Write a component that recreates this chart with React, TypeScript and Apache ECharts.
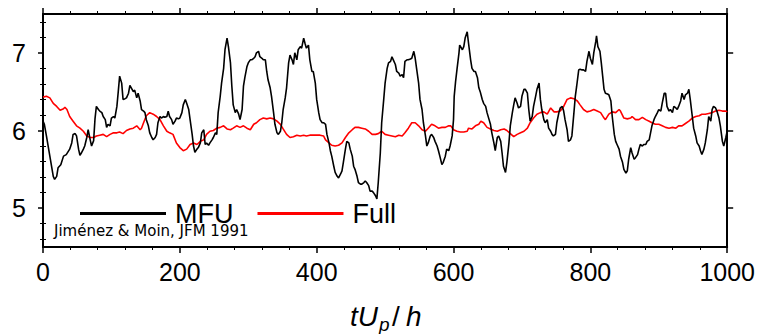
import React, { useEffect, useRef } from "react";
import * as echarts from "echarts";

// Time axis ticks (tU_p/h) and velocity axis ticks
const xTicks = [0, 200, 400, 600, 800, 1000];
const yMajorTicks = [5, 6, 7];
const yMinorTicks = [4.6, 4.8, 5.2, 5.4, 5.6, 5.8, 6.2, 6.4, 6.6, 6.8, 7.2, 7.4];
const seriesNames = ["MFU", "Full"];

// MFU: [tU_p/h, value]
const mfu: [number, number][] = [
  [0, 6.12], [2, 6.08], [5, 5.93], [10, 5.67], [15, 5.41], [17, 5.37], [20, 5.41], [22, 5.52], [26, 5.56], [30, 5.67],
  [34, 5.69], [39, 5.76], [42, 5.84], [44, 5.95], [47, 5.96], [49, 5.93], [52, 5.76], [54, 5.68], [56, 5.71], [59, 5.76],
  [61, 5.8], [64, 5.91], [66, 6.01], [69, 5.88], [71, 5.8], [74, 5.87], [76, 6.15], [78, 6.31], [81, 6.27], [83, 6.25],
  [86, 6.23], [88, 6.18], [91, 6.14], [93, 6.04], [95, 6.08], [98, 6.06], [100, 6.16], [103, 6.18], [105, 6.16], [108, 6.31],
  [110, 6.5], [112, 6.7], [115, 6.61], [117, 6.4], [120, 6.41], [122, 6.42], [125, 6.48], [127, 6.58], [129, 6.55], [132, 6.5],
  [134, 6.52], [137, 6.42], [139, 6.48], [142, 6.38], [144, 6.27], [147, 6.25], [149, 6.23], [151, 6.14], [154, 6.06], [156, 5.97],
  [159, 5.91], [161, 5.88], [164, 5.91], [166, 5.95], [168, 6.1], [171, 6.18], [173, 6.16], [176, 6.18], [178, 6.17], [181, 6.18],
  [183, 6.25], [185, 6.18], [188, 6.14], [190, 6.08], [193, 6.12], [195, 6.16], [198, 6.15], [200, 6.16], [203, 6.23], [205, 6.33],
  [208, 6.4], [210, 6.35], [213, 6.27], [215, 6.14], [218, 5.95], [220, 5.8], [222, 5.72], [225, 5.76], [227, 5.78], [230, 5.84],
  [232, 5.97], [235, 6.01], [237, 5.82], [239, 5.84], [242, 5.81], [244, 5.84], [247, 5.88], [249, 5.91], [252, 5.97], [254, 5.95],
  [256, 6.23], [259, 6.44], [261, 6.61], [264, 6.8], [266, 7.04], [269, 7.19], [271, 7.08], [274, 6.87], [276, 6.57], [278, 6.33],
  [281, 6.23], [283, 6.27], [286, 6.21], [288, 6.14], [291, 6.27], [293, 6.57], [295, 6.68], [298, 6.82], [300, 6.87], [303, 6.91],
  [305, 6.91], [308, 6.93], [310, 6.95], [312, 7.0], [315, 7.02], [317, 6.95], [320, 6.93], [322, 6.91], [325, 6.91], [327, 6.76],
  [329, 6.65], [332, 6.55], [334, 6.44], [337, 6.23], [339, 6.08], [342, 5.97], [344, 5.95], [347, 5.99], [349, 6.1], [351, 6.27],
  [354, 6.42], [356, 6.55], [359, 6.87], [361, 6.97], [364, 6.91], [366, 6.85], [368, 7.0], [371, 6.91], [373, 7.04], [376, 7.08],
  [378, 7.06], [381, 7.19], [383, 7.12], [385, 7.06], [388, 7.1], [390, 6.91], [393, 6.76], [395, 6.76], [398, 6.61], [400, 6.4],
  [403, 6.23], [405, 6.14], [408, 6.1], [410, 6.1], [413, 6.08], [415, 5.95], [418, 5.84], [420, 5.74], [422, 5.67], [425, 5.54],
  [427, 5.46], [430, 5.41], [432, 5.39], [435, 5.44], [437, 5.48], [439, 5.59], [442, 5.76], [444, 5.86], [447, 5.84], [449, 5.76],
  [452, 5.67], [454, 5.54], [456, 5.5], [459, 5.41], [461, 5.33], [464, 5.31], [466, 5.31], [469, 5.33], [471, 5.35], [473, 5.33],
  [476, 5.29], [478, 5.22], [481, 5.22], [483, 5.2], [486, 5.16], [488, 5.12], [490, 5.33], [493, 5.71], [495, 6.1], [498, 6.4],
  [500, 6.61], [503, 6.8], [505, 6.87], [508, 6.89], [510, 6.95], [512, 6.91], [515, 6.85], [517, 6.76], [520, 6.74], [522, 6.7],
  [525, 6.72], [527, 6.68], [529, 6.89], [532, 6.91], [534, 6.91], [537, 6.92], [539, 6.93], [542, 7.02], [544, 6.93], [546, 6.8],
  [549, 6.61], [551, 6.4], [554, 6.27], [556, 6.1], [559, 5.93], [561, 5.8], [563, 5.84], [566, 5.93], [568, 5.95], [571, 5.91],
  [573, 5.86], [576, 5.8], [578, 5.74], [580, 5.67], [583, 5.56], [585, 5.59], [588, 5.67], [590, 5.76], [593, 5.74], [595, 5.8],
  [598, 5.93], [600, 6.14], [601, 6.44], [603, 6.63], [605, 6.78], [608, 7.0], [609, 7.1], [613, 7.04], [615, 7.08], [617, 7.19],
  [620, 7.27], [622, 7.12], [625, 6.91], [627, 6.8], [630, 6.76], [632, 6.76], [635, 6.68], [637, 6.55], [639, 6.5], [642, 6.4],
  [644, 6.35], [647, 6.31], [649, 6.23], [652, 6.14], [654, 6.08], [656, 5.97], [659, 5.84], [661, 5.74], [664, 5.91], [666, 5.93],
  [669, 5.86], [671, 5.71], [673, 5.54], [676, 5.46], [678, 5.59], [681, 5.84], [683, 6.06], [686, 6.23], [688, 6.33], [690, 6.42],
  [693, 6.35], [695, 6.29], [698, 6.31], [700, 6.44], [703, 6.53], [705, 6.53], [708, 6.48], [710, 6.27], [712, 6.12], [715, 6.18],
  [717, 6.31], [720, 6.44], [722, 6.53], [725, 6.61], [727, 6.4], [729, 6.27], [732, 6.14], [734, 6.1], [737, 6.14], [739, 6.03],
  [742, 5.99], [744, 5.95], [746, 5.93], [749, 5.95], [751, 6.1], [754, 6.23], [756, 6.29], [759, 6.31], [761, 6.25], [763, 6.14],
  [766, 6.01], [768, 5.86], [771, 5.88], [773, 5.93], [776, 6.23], [778, 6.44], [780, 6.57], [783, 6.78], [785, 6.79], [788, 6.78],
  [790, 6.78], [793, 6.76], [795, 6.89], [798, 7.02], [800, 6.93], [803, 6.85], [805, 7.0], [808, 7.15], [809, 7.22], [811, 7.08],
  [814, 7.02], [816, 6.87], [818, 6.7], [820, 6.53], [822, 6.48], [825, 6.47], [827, 6.46], [830, 6.38], [832, 6.18], [835, 5.95],
  [837, 5.86], [839, 5.82], [842, 5.76], [844, 5.67], [847, 5.59], [849, 5.5], [852, 5.45], [854, 5.48], [856, 5.63], [859, 5.78],
  [861, 5.71], [864, 5.63], [866, 5.65], [869, 5.69], [871, 5.76], [873, 5.82], [876, 5.8], [878, 5.82], [881, 5.82], [883, 5.86],
  [886, 5.88], [888, 5.97], [890, 6.06], [893, 6.14], [895, 6.18], [898, 6.23], [900, 6.27], [903, 6.25], [905, 6.35], [908, 6.48],
  [910, 6.48], [912, 6.31], [915, 6.25], [917, 6.27], [920, 6.23], [922, 6.31], [925, 6.29], [927, 6.27], [929, 6.31], [932, 6.38],
  [934, 6.48], [937, 6.4], [939, 6.46], [942, 6.48], [944, 6.53], [946, 6.4], [949, 6.18], [951, 6.03], [954, 5.93], [956, 5.84],
  [959, 5.8], [961, 5.74], [963, 5.69], [966, 5.76], [968, 5.84], [971, 6.01], [973, 6.18], [976, 6.12], [978, 6.27], [980, 6.31],
  [983, 6.29], [985, 6.25], [988, 6.16], [990, 6.06], [993, 5.86], [995, 5.8], [998, 5.91], [1000, 5.99],
];

// Full: [tU_p/h, value]
const full: [number, number][] = [
  [0, 6.43], [5, 6.44], [10, 6.42], [15, 6.35], [20, 6.31], [25, 6.26], [30, 6.28], [32, 6.3], [35, 6.27], [39, 6.18],
  [44, 6.12], [49, 6.06], [54, 6.03], [59, 5.99], [64, 5.93], [69, 5.91], [74, 5.91], [78, 5.93], [83, 5.94], [88, 5.95],
  [93, 5.92], [98, 5.95], [103, 5.97], [108, 5.97], [112, 5.98], [117, 5.96], [122, 6.0], [127, 6.02], [132, 6.03], [137, 6.06],
  [142, 6.01], [144, 6.03], [147, 6.1], [151, 6.19], [156, 6.23], [161, 6.21], [166, 6.18], [171, 6.14], [176, 6.06], [181, 5.99],
  [185, 5.97], [190, 5.95], [195, 5.84], [200, 5.78], [205, 5.74], [210, 5.76], [215, 5.82], [220, 5.84], [225, 5.82], [230, 5.86],
  [235, 5.88], [239, 5.95], [244, 5.99], [249, 6.0], [254, 6.03], [259, 6.04], [264, 6.06], [269, 6.02], [274, 6.01], [278, 6.03],
  [283, 6.06], [288, 6.04], [293, 6.06], [298, 6.03], [303, 6.01], [308, 6.08], [312, 6.1], [317, 6.14], [322, 6.16], [327, 6.15],
  [332, 6.16], [337, 6.15], [342, 6.12], [347, 6.08], [351, 6.02], [356, 5.95], [361, 5.91], [366, 5.92], [371, 5.94], [376, 5.93],
  [381, 5.94], [385, 5.93], [390, 5.94], [395, 5.94], [400, 5.94], [405, 5.94], [410, 5.93], [413, 5.88], [418, 5.84], [422, 5.81],
  [427, 5.8], [432, 5.81], [437, 5.84], [442, 5.91], [447, 5.97], [452, 6.01], [456, 6.04], [461, 6.04], [466, 6.03], [471, 6.02],
  [476, 5.99], [481, 5.95], [486, 5.95], [490, 5.96], [495, 5.99], [500, 5.95], [505, 5.94], [510, 5.93], [515, 5.92], [520, 5.94],
  [525, 5.93], [529, 5.97], [534, 6.03], [539, 6.1], [544, 6.1], [549, 6.06], [554, 6.01], [559, 5.99], [563, 6.03], [568, 6.08],
  [573, 6.06], [578, 6.03], [583, 6.04], [588, 6.04], [593, 6.06], [596, 6.06], [600, 6.01], [605, 5.99], [610, 5.98], [615, 5.98],
  [620, 5.99], [622, 6.03], [627, 6.02], [632, 6.06], [637, 6.08], [640, 6.12], [644, 6.1], [649, 6.04], [654, 6.02], [659, 6.0],
  [664, 5.99], [669, 6.01], [674, 6.02], [678, 6.0], [683, 5.96], [688, 5.92], [693, 5.95], [698, 5.97], [703, 5.99], [708, 6.03],
  [712, 6.1], [717, 6.16], [722, 6.21], [727, 6.23], [732, 6.24], [737, 6.21], [742, 6.29], [747, 6.24], [751, 6.24], [756, 6.25],
  [761, 6.31], [766, 6.4], [771, 6.42], [776, 6.41], [781, 6.38], [785, 6.33], [790, 6.27], [795, 6.24], [800, 6.25], [805, 6.27],
  [810, 6.25], [815, 6.23], [820, 6.16], [822, 6.14], [827, 6.21], [832, 6.24], [837, 6.23], [842, 6.27], [844, 6.25], [849, 6.16],
  [854, 6.15], [859, 6.16], [861, 6.18], [866, 6.14], [871, 6.14], [876, 6.17], [881, 6.14], [886, 6.12], [890, 6.1], [895, 6.08],
  [900, 6.08], [905, 6.06], [910, 6.04], [915, 6.03], [920, 6.04], [925, 6.03], [929, 6.06], [934, 6.06], [939, 6.09], [944, 6.12],
  [949, 6.16], [954, 6.18], [959, 6.19], [963, 6.21], [968, 6.21], [973, 6.22], [978, 6.23], [983, 6.25], [988, 6.26], [993, 6.25],
  [998, 6.25], [1000, 6.24],
];

const FONT = "'Liberation Sans', Arial, sans-serif";

export default function App() {
  const ref = useRef<HTMLDivElement>(null);
  useEffect(() => {
    if (!ref.current) return;
    document.body.style.margin = "0";
    const chart = echarts.init(ref.current, null, { renderer: "svg" });
    const black = "#000";
    const xBase = {
      type: "value" as const,
      min: xTicks[0],
      max: xTicks[xTicks.length - 1],
      interval: 200,
      splitLine: { show: false },
      minorSplitLine: { show: false },
      axisLine: { show: true, onZero: false, lineStyle: { color: black, width: 2 } },
      axisTick: { show: true, inside: false, length: 6, lineStyle: { color: black, width: 1.5 } },
      minorTick: { show: true, splitNumber: 5, length: 3, lineStyle: { color: black, width: 1 } },
    };
    const yBase = {
      type: "value" as const,
      min: 4.5,
      max: 7.5,
      splitLine: { show: false },
    };
    chart.setOption({
      animation: false,
      grid: { left: 43, right: 30, top: 14, bottom: 87, containLabel: false },
      legend: {
        data: seriesNames,
        left: 80,
        top: 200,
        padding: 0,
        icon: "rect",
        itemWidth: 86,
        itemHeight: 3,
        itemGap: 24,
        textStyle: { fontSize: 27, lineHeight: 22, color: black, fontFamily: FONT, padding: [0, 0, 0, 4] },
      },
      xAxis: [
        {
          ...xBase,
          position: "bottom",
          axisLabel: {
            show: true,
            fontSize: 25,
            color: black,
            fontFamily: FONT,
            margin: 12,
            formatter: (v: number) => String(v),
          },
        },
        {
          ...xBase,
          position: "top",
          axisLabel: { show: false },
        },
      ],
      yAxis: [
        {
          ...yBase,
          position: "left",
          axisLine: { show: true, onZero: false, lineStyle: { color: black, width: 2 } },
          axisTick: { show: true, length: 5, customValues: yMajorTicks, lineStyle: { color: black, width: 1.5 } },
          axisLabel: { show: true, customValues: yMajorTicks, fontSize: 25, color: black, fontFamily: FONT, margin: 17 },
        },
        {
          ...yBase,
          position: "left",
          axisLine: { show: false },
          axisTick: { show: true, length: 3, customValues: yMinorTicks, lineStyle: { color: black, width: 1 } },
          axisLabel: { show: false },
        },
        {
          ...yBase,
          position: "right",
          axisLine: { show: true, onZero: false, lineStyle: { color: black, width: 2 } },
          axisTick: { show: true, length: 6, customValues: yMajorTicks, lineStyle: { color: black, width: 1.5 } },
          axisLabel: { show: false },
        },
        {
          ...yBase,
          position: "right",
          axisLine: { show: false },
          axisTick: { show: true, length: 3, customValues: yMinorTicks, lineStyle: { color: black, width: 1 } },
          axisLabel: { show: false },
        },
      ],
      graphic: [
        {
          type: "text",
          left: 54,
          top: 223,
          style: { text: "Jiménez & Moin, JFM 1991", fontSize: 15, fontFamily: "'DejaVu Sans', sans-serif", fill: black },
        },
        {
          type: "group",
          left: 350,
          top: 302,
          children: [
            { type: "text", x: 0, y: 0, style: { text: "tU", fontSize: 28, fontStyle: "italic", fontFamily: FONT, fill: black } },
            { type: "text", x: 29, y: 13, style: { text: "p", fontSize: 19, fontStyle: "italic", fontFamily: FONT, fill: black } },
            { type: "text", x: 42, y: 0, style: { text: "/", fontSize: 28, fontFamily: FONT, fill: black } },
            { type: "text", x: 56, y: 0, style: { text: "h", fontSize: 28, fontStyle: "italic", fontFamily: FONT, fill: black } },
          ],
        },
      ],
      series: [
        {
          name: seriesNames[0],
          type: "line",
          data: mfu,
          showSymbol: false,
          symbol: "none",
          lineStyle: { color: black, width: 1.6 },
          itemStyle: { color: black },
          z: 3,
        },
        {
          name: seriesNames[1],
          type: "line",
          data: full,
          showSymbol: false,
          symbol: "none",
          lineStyle: { color: "#ff0000", width: 1.6 },
          itemStyle: { color: "#ff0000" },
          z: 2,
        },
      ],
    });
    return () => chart.dispose();
  }, []);
  return <div ref={ref} style={{ width: 758, height: 334 }} />;
}
